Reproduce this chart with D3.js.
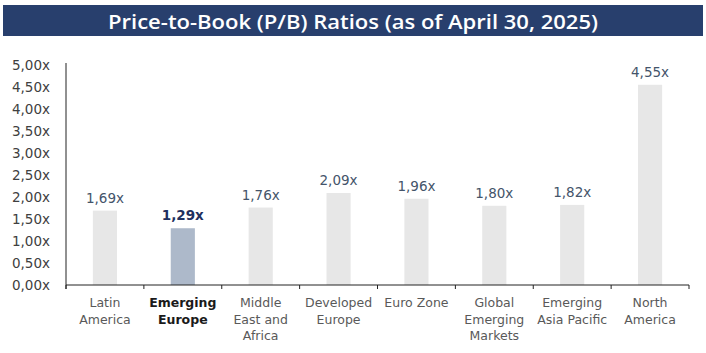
<!DOCTYPE html>
<html>
<head>
<meta charset="utf-8">
<script src="https://cdn.jsdelivr.net/npm/d3@7"></script>
<style>
  body { margin: 0; background: #fff; }
  svg { display: block; font-family: "DejaVu Sans", "Open Sans", sans-serif; }
</style>
</head>
<body>
<svg id="chart" width="706" height="353"></svg>
<script>
const title = "Price-to-Book (P/B) Ratios (as of April 30, 2025)";
const categories = [
  ["Latin", "America"],
  ["Emerging", "Europe"],
  ["Middle", "East and", "Africa"],
  ["Developed", "Europe"],
  ["Euro Zone"],
  ["Global", "Emerging", "Markets"],
  ["Emerging", "Asia Pacific"],
  ["North", "America"]
];
const values = [1.69, 1.29, 1.76, 2.09, 1.96, 1.80, 1.82, 4.55];
const highlight = 1; // Emerging Europe
const yTicks = [0, 0.5, 1, 1.5, 2, 2.5, 3, 3.5, 4, 4.5, 5];

const svg = d3.select("#chart"),
  width = +svg.attr("width"),
  height = +svg.attr("height");

const fmt = v => d3.format(".2f")(v).replace(".", ",") + "x";

// title band
svg.append("rect")
  .attr("x", 3).attr("y", 5)
  .attr("width", width - 6).attr("height", 31)
  .attr("fill", "#283f6d");
svg.append("text")
  .attr("x", width / 2).attr("y", 21)
  .attr("text-anchor", "middle")
  .attr("dominant-baseline", "central")
  .attr("fill", "#fff")
  .attr("font-family", "\"Open Sans\", sans-serif")
  .attr("font-size", 19.5)
  .attr("font-weight", 600)
  .attr("textLength", 490)
  .attr("lengthAdjust", "spacingAndGlyphs")
  .text(title);

const margin = {left: 66, right: 17, top: 65, bottom: 68};
const x = d3.scaleBand()
  .domain(d3.range(categories.length))
  .range([margin.left, width - margin.right])
  .paddingInner(0.69).paddingOuter(0.345);
const y = d3.scaleLinear()
  .domain([0, 5])
  .range([height - margin.bottom, margin.top]);

// bars
svg.append("g")
  .selectAll("rect")
  .data(values)
  .join("rect")
  .attr("x", (d, i) => x(i))
  .attr("y", d => y(d))
  .attr("width", x.bandwidth())
  .attr("height", d => y(0) - y(d))
  .attr("fill", (d, i) => i === highlight ? "#adb9ca" : "#e7e7e7");

// value labels
svg.append("g")
  .selectAll("text")
  .data(values)
  .join("text")
  .attr("x", (d, i) => x(i) + x.bandwidth() / 2)
  .attr("y", d => y(d) - 8)
  .attr("text-anchor", "middle")
  .attr("font-size", 13.5)
  .attr("font-weight", (d, i) => i === highlight ? 700 : 400)
  .attr("fill", (d, i) => i === highlight ? "#1f3160" : "#44546a")
  .text(fmt);

// y axis
const yAxis = svg.append("g")
  .attr("transform", `translate(${margin.left},0)`)
  .call(d3.axisLeft(y).tickValues(yTicks).tickFormat(fmt).tickSize(0).tickPadding(16));
yAxis.select(".domain").attr("stroke", "#222").attr("d", `M0,${y(5) - 2}V${y(0) + 4}`);
yAxis.selectAll("text")
  .attr("font-size", 13.5)
  .attr("fill", "#404040")
  .attr("font-family", "\"DejaVu Sans\", sans-serif");

// x axis with ticks at band boundaries
const step = x.step();
const x0 = margin.left, x1 = width - margin.right;
const xAxis = svg.append("g");
xAxis.append("line")
  .attr("x1", x0).attr("x2", x1)
  .attr("y1", y(0)).attr("y2", y(0))
  .attr("stroke", "#222");
xAxis.selectAll("line.tick")
  .data(d3.range(categories.length + 1))
  .join("line")
  .attr("class", "tick")
  .attr("x1", i => x0 + i * step).attr("x2", i => x0 + i * step)
  .attr("y1", y(0)).attr("y2", y(0) + 4)
  .attr("stroke", "#222");

const labels = xAxis.selectAll("text")
  .data(categories)
  .join("text")
  .attr("text-anchor", "middle")
  .attr("font-size", 12.5)
  .attr("font-weight", (d, i) => i === highlight ? 700 : 400)
  .attr("fill", (d, i) => i === highlight ? "#1a1a1a" : "#595959");
labels.selectAll("tspan")
  .data((d, i) => d.map(t => ({t, i})))
  .join("tspan")
  .attr("x", d => x(d.i) + x.bandwidth() / 2)
  .attr("y", (d, j) => y(0) + 22 + j * 16.5)
  .text(d => d.t);
</script>
</body>
</html>
